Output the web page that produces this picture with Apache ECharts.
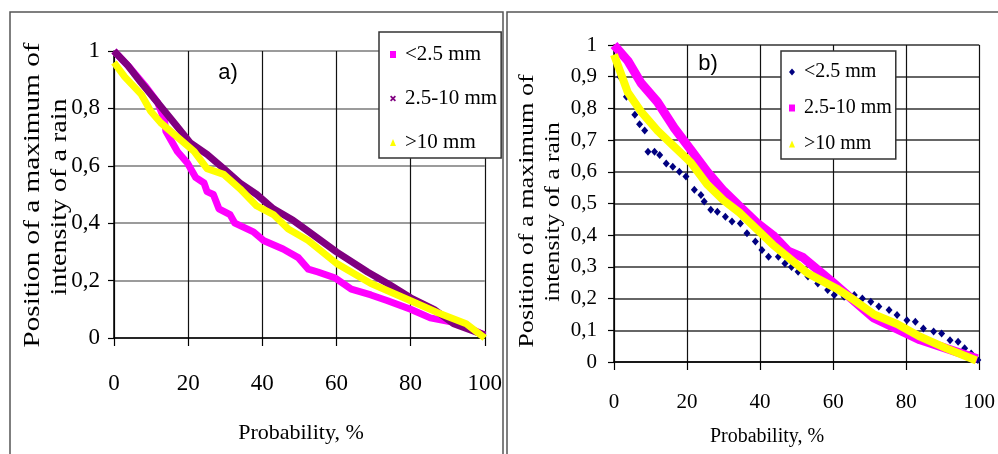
<!DOCTYPE html>
<html>
<head>
<meta charset="utf-8">
<script src="https://cdn.jsdelivr.net/npm/echarts@6/dist/echarts.min.js"></script>
<style>
  html, body { margin: 0; padding: 0; background: #fff; }
  #wrap { position: relative; width: 998px; height: 454px; overflow: hidden; }
  #chartA { position: absolute; left: 0; top: 0; width: 505px; height: 454px; }
  #chartB { position: absolute; left: 505px; top: 0; width: 493px; height: 454px; }
</style>
</head>
<body>
<div id="wrap">
  <div id="chartA"></div>
  <div id="chartB"></div>
</div>
<script>
// panel a) values
var aSmallX = [0, 3.7, 8.3, 11.8, 13.6, 14.0, 17.1, 19.8, 22.0, 24.3, 25.1, 26.8, 28.3, 31.3, 32.6, 37.6, 40.3, 45.6, 49.7, 52.4, 55, 59.5, 64, 69.3, 73.8, 80, 85.3, 93.3, 100];
var aSmallY = [1.0, 0.95, 0.88, 0.82, 0.76, 0.72, 0.65, 0.61, 0.56, 0.54, 0.51, 0.50, 0.45, 0.43, 0.40, 0.37, 0.34, 0.31, 0.28, 0.24, 0.23, 0.21, 0.17, 0.15, 0.13, 0.10, 0.07, 0.05, 0.01];
var aMidX = [0, 3.7, 7.3, 11.8, 16.2, 20.6, 25.1, 29.6, 34, 38.5, 43, 48.3, 51.5, 60, 68.4, 73.8, 80, 86.3, 91.6, 100];
var aMidY = [1.0, 0.95, 0.89, 0.82, 0.75, 0.68, 0.64, 0.59, 0.54, 0.50, 0.45, 0.41, 0.38, 0.30, 0.23, 0.19, 0.14, 0.10, 0.05, 0.01];
var aBigX = [0, 2.9, 7.3, 9.9, 12.6, 16.2, 21.6, 25.1, 29.6, 34, 38.5, 43, 47, 52.4, 60, 69.3, 80, 87, 95, 100];
var aBigY = [0.96, 0.91, 0.85, 0.79, 0.75, 0.71, 0.65, 0.59, 0.57, 0.52, 0.46, 0.43, 0.38, 0.34, 0.26, 0.19, 0.13, 0.09, 0.05, 0.0];

// panel b) values
var bSmallX = [1.6, 3.4, 5.7, 7.0, 8.4, 9.3, 11.1, 12.5, 14.3, 16.1, 17.9, 19.7, 22, 23.8, 24.7, 26.5, 28.3, 30.5, 32.3, 34.6, 36.4, 38.7, 40.5, 42.3, 45, 46.8, 48.6, 50.4, 53.1, 55.8, 58.5, 60.3, 63, 65.8, 68, 70.3, 72.5, 75.3, 77.5, 80.2, 82.5, 84.7, 87.5, 89.7, 92, 94.2, 96, 97.8, 99.6];
var bSmallY = [0.90, 0.837, 0.78, 0.75, 0.73, 0.663, 0.663, 0.653, 0.626, 0.616, 0.60, 0.585, 0.543, 0.527, 0.506, 0.48, 0.474, 0.458, 0.443, 0.437, 0.406, 0.38, 0.353, 0.332, 0.332, 0.311, 0.30, 0.285, 0.27, 0.248, 0.227, 0.211, 0.206, 0.211, 0.20, 0.19, 0.175, 0.164, 0.148, 0.132, 0.127, 0.106, 0.096, 0.09, 0.069, 0.064, 0.043, 0.027, 0.006];
var bMidX = [0, 3.8, 7.4, 11.9, 16.4, 21, 25.5, 30, 34.5, 39, 43.5, 47.7, 51.7, 60, 71, 83.8, 99.5];
var bMidY = [1.0, 0.95, 0.88, 0.82, 0.74, 0.67, 0.60, 0.54, 0.49, 0.44, 0.40, 0.35, 0.33, 0.25, 0.14, 0.07, 0.01];
var bBigX = [0, 1.9, 3.8, 7.4, 11.9, 16.4, 21, 25.5, 30, 34.5, 39, 43.5, 47.7, 53, 61.2, 65.8, 71.2, 77.5, 83.8, 91, 99.2];
var bBigY = [0.97, 0.91, 0.85, 0.79, 0.73, 0.68, 0.63, 0.56, 0.51, 0.47, 0.42, 0.37, 0.33, 0.28, 0.23, 0.195, 0.15, 0.12, 0.08, 0.043, 0.005];

var seriesNames = ['<2.5 mm', '2.5-10 mm', '>10 mm'];

var SERIF = 'Liberation Serif';
var xIcon = 'path://M0,2L2,0L5,3L8,0L10,2L7,5L10,8L8,10L5,7L2,10L0,8L3,5Z';

function pairs(xs, ys) {
  return xs.map(function (x, i) { return [x, ys[i]]; });
}
function commaLabel(v) {
  if (v === 0 || v === 1) return String(v);
  return v.toFixed(1).replace('.', ',');
}
function band(name, color, xs, ys, width) {
  return {
    name: name, type: 'line', data: pairs(xs, ys), showSymbol: false, symbol: 'none',
    lineStyle: { color: color, width: width, join: 'round' },
    itemStyle: { color: color }
  };
}
function axes(opt) {
  return {
    xAxis: {
      type: 'value', min: 0, max: 100, interval: 20,
      axisLine: { lineStyle: { color: '#000', width: 1.5 } },
      axisTick: { length: 8, lineStyle: { color: '#000', width: 1.2 } },
      axisLabel: { margin: opt.xMargin, fontFamily: SERIF, fontSize: opt.fs, color: '#000' },
      splitLine: { lineStyle: { color: '#111', width: 1.2 } }
    },
    yAxis: {
      type: 'value', min: 0, max: 1, interval: opt.yInt,
      axisLine: { show: true, lineStyle: { color: '#000', width: 1.5 } },
      axisTick: { show: true, length: 6, lineStyle: { color: '#000', width: 1.2 } },
      axisLabel: { margin: opt.yMargin, fontFamily: SERIF, fontSize: opt.fs, color: '#000', formatter: commaLabel },
      splitLine: { lineStyle: { color: opt.hColor, width: 1.5 } }
    }
  };
}
function title(x, y, text, size, sx, rot, family) {
  return {
    type: 'text', x: x, y: y, rotation: rot || 0, scaleX: sx || 1,
    style: { text: text, fontFamily: family || SERIF, fontSize: size, fill: '#000', align: 'center', verticalAlign: 'middle' }
  };
}

// ---- panel a)
var chartA = echarts.init(document.getElementById('chartA'));
var axA = axes({ xMargin: 34, yMargin: 14, fs: 23, yInt: 0.2, hColor: '#7a7a7a' });
chartA.setOption({
  animation: false,
  grid: { left: 114, top: 51, width: 374, height: 287 },
  xAxis: axA.xAxis,
  yAxis: axA.yAxis,
  legend: {
    left: 379, top: 32, orient: 'vertical', selectedMode: false,
    padding: [12, 4, 5, 11], itemGap: 23, itemWidth: 6, itemHeight: 7,
    backgroundColor: '#fff', borderColor: '#333', borderWidth: 1.5,
    textStyle: { fontFamily: SERIF, fontSize: 21, color: '#000', padding: [0, 0, 0, 4] },
    data: [
      { name: seriesNames[0], icon: 'rect', itemStyle: { color: '#ff00ff' } },
      { name: seriesNames[1], icon: xIcon, itemStyle: { color: '#800080' } },
      { name: seriesNames[2], icon: 'triangle', itemStyle: { color: '#ffff00' } }
    ]
  },
  graphic: [
    { type: 'rect', shape: { x: 10, y: 12, width: 493, height: 470 }, style: { fill: 'none', stroke: '#555', lineWidth: 1.5 }, z: 100 },
    title(228, 73, 'a)', 22, 1, 0, 'Liberation Sans'),
    title(33, 195, 'Position of a maximum of', 23, 1.27, Math.PI / 2),
    title(60, 197, 'intensity of a rain', 23, 1.22, Math.PI / 2),
    title(301, 433, 'Probability, %', 22)
  ],
  series: [
    band(seriesNames[0], '#ff00ff', aSmallX, aSmallY, 7),
    band(seriesNames[1], '#800080', aMidX, aMidY, 7),
    band(seriesNames[2], '#ffff00', aBigX, aBigY, 7)
  ]
});

// ---- panel b)
var chartB = echarts.init(document.getElementById('chartB'));
var axB = axes({ xMargin: 30, yMargin: 17, fs: 21, yInt: 0.1, hColor: '#333' });
chartB.setOption({
  animation: false,
  grid: { left: 109, top: 45, width: 369, height: 317 },
  xAxis: axB.xAxis,
  yAxis: axB.yAxis,
  legend: {
    left: 276, top: 51, orient: 'vertical', selectedMode: false,
    padding: [11, 4, 5, 8], itemGap: 16, itemWidth: 6, itemHeight: 7,
    backgroundColor: '#fff', borderColor: '#333', borderWidth: 1.5,
    textStyle: { fontFamily: SERIF, fontSize: 20, color: '#000', padding: [0, 0, 0, 4] },
    data: [
      { name: seriesNames[0], icon: 'diamond', itemStyle: { color: '#000080' } },
      { name: seriesNames[1], icon: 'rect', itemStyle: { color: '#ff00ff' } },
      { name: seriesNames[2], icon: 'triangle', itemStyle: { color: '#ffff00' } }
    ]
  },
  graphic: [
    { type: 'rect', shape: { x: 2, y: 12, width: 520, height: 470 }, style: { fill: 'none', stroke: '#555', lineWidth: 1.5 }, z: 100 },
    title(203, 64, 'b)', 22, 1, 0, 'Liberation Sans'),
    title(22, 211, 'Position of a maximum of', 22, 1.19, Math.PI / 2),
    title(48, 212, 'intensity of a rain', 22, 1.16, Math.PI / 2),
    title(262, 437, 'Probability, %', 20)
  ],
  series: [
    {
      name: seriesNames[0], type: 'scatter', data: pairs(bSmallX, bSmallY),
      symbol: 'diamond', symbolSize: [7, 8], itemStyle: { color: '#000080', opacity: 1 }, z: 1
    },
    band(seriesNames[1], '#ff00ff', bMidX, bMidY, 9),
    band(seriesNames[2], '#ffff00', bBigX, bBigY, 8)
  ]
});
</script>
</body>
</html>
